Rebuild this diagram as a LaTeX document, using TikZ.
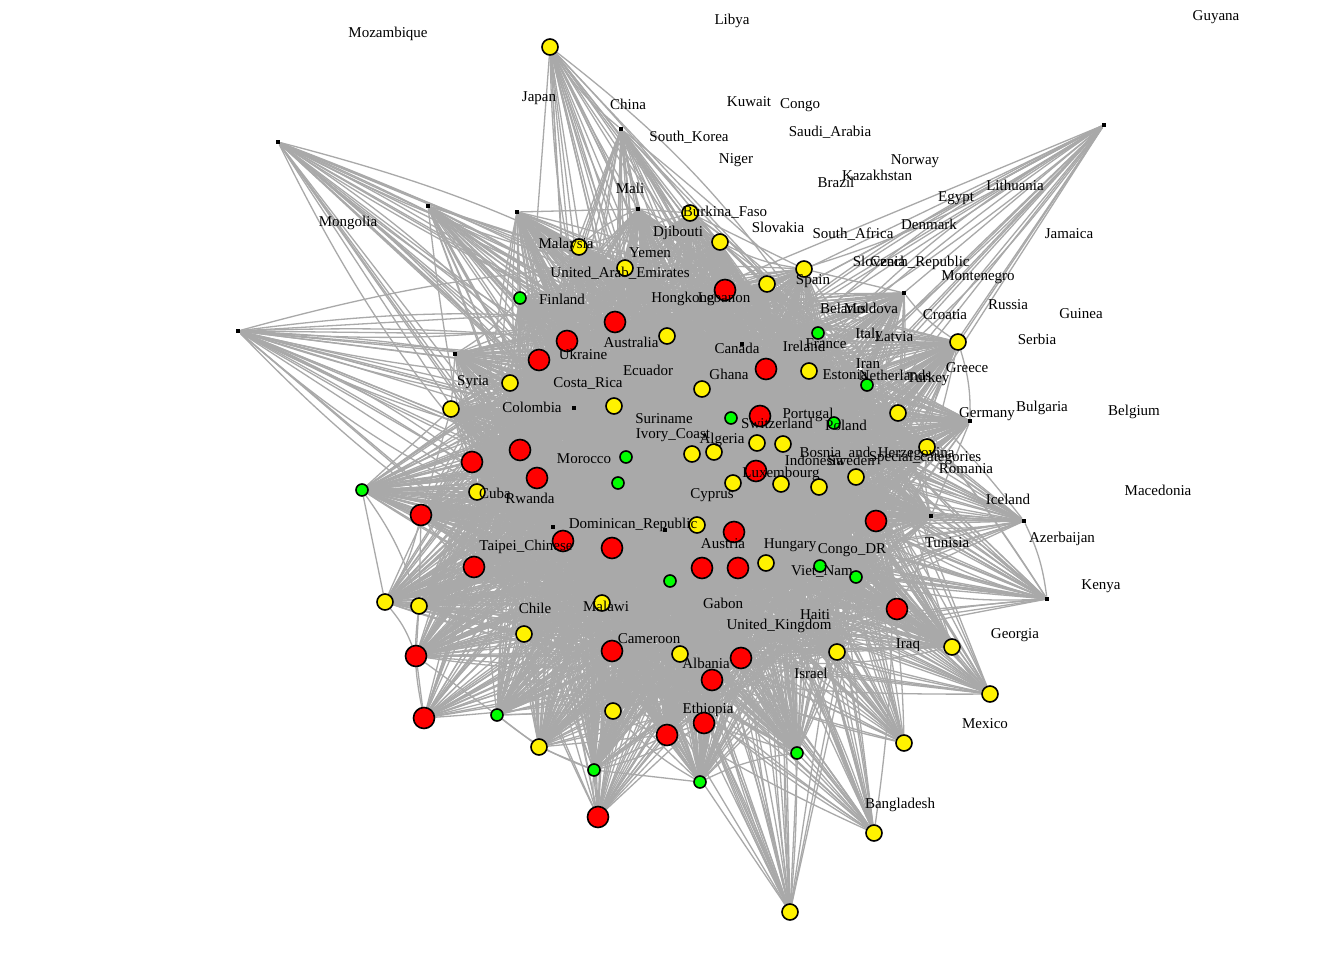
\documentclass[tikz,border=0pt]{standalone}
\usepackage{fontspec}
\setmainfont{Liberation Serif}
\pgfdeclarelayer{bglayer}
\pgfdeclarelayer{edgelayer}
\pgfsetlayers{bglayer,edgelayer,main}
\definecolor{edgegray}{RGB}{169,169,169}
\begin{document}
\begin{tikzpicture}[x=1pt,y=-1pt,
  vbase/.style={circle,draw=black,line width=1.6pt,inner sep=0pt},
  vr/.style={vbase,fill=red,minimum size=21pt},
  vy/.style={vbase,fill=yellow,minimum size=16pt},
  vg/.style={vbase,fill=green,minimum size=12pt},
  vs/.style={rectangle,fill=black,inner sep=0pt,minimum size=4.5pt},
  edge/.style={draw=edgegray,line width=1.3pt},
  lab/.style={inner sep=0pt,text height=10pt,text depth=3pt,font=\fontsize{15}{17}\selectfont}]
\begin{pgfonlayer}{bglayer}
\fill[white] (0,0) rectangle (1344,960);
\end{pgfonlayer}
\useasboundingbox (0,0) rectangle (1344,960);
\foreach [count=\i] \x/\y/\t in {
550/47/vy, 278/142/vs, 621/129/vs, 1104/125/vs, 428/206/vs, 517/212/vs, 638/209/vs, 690/213/vy,
579/247/vy, 720/242/vy, 625/268/vy, 804/269/vy, 767/284/vy, 725/290/vr, 520/298/vg, 904/293/vs,
615/322/vr, 667/336/vy, 567/341/vr, 539/360/vr, 818/333/vg, 742/344/vs, 958/342/vy, 238/331/vs,
455/354/vs, 766/369/vr, 809/371/vy, 867/385/vg, 510/383/vy, 702/389/vy, 451/409/vy, 574/408/vs,
614/406/vy, 898/413/vy, 731/418/vg, 760/416/vr, 834/423/vg, 970/421/vs, 520/450/vr, 472/462/vr,
692/454/vy, 714/452/vy, 757/443/vy, 783/444/vy, 927/447/vy, 626/457/vg, 756/471/vr, 537/478/vr,
618/483/vg, 733/483/vy, 781/484/vy, 819/487/vy, 856/477/vy, 477/492/vy, 362/490/vg, 553/527/vs,
665/530/vs, 697/525/vy, 421/515/vr, 734/532/vr, 876/521/vr, 931/516/vs, 1024/521/vs, 563/541/vr,
612/548/vr, 474/567/vr, 702/568/vr, 738/568/vr, 766/563/vy, 820/566/vg, 856/577/vg, 670/581/vg,
1047/599/vs, 385/602/vy, 419/606/vy, 602/603/vy, 897/609/vr, 524/634/vy, 416/656/vr, 612/651/vr,
680/654/vy, 741/658/vr, 837/652/vy, 952/647/vy, 712/680/vr, 990/694/vy, 424/718/vr, 497/715/vg,
613/711/vy, 704/723/vr, 667/735/vr, 539/747/vy, 904/743/vy, 797/753/vg, 594/770/vg, 700/782/vg,
598/817/vr, 874/833/vy, 790/912/vy}{
  \node[\t] (n\i) at (\x,\y) {};
  \pgfmathsetmacro\tmpu{(\x-690)/100}
  \pgfmathsetmacro\tmpv{(\y-480)/100}
  \expandafter\xdef\csname pu\i\endcsname{\tmpu}
  \expandafter\xdef\csname pv\i\endcsname{\tmpv}
  \xdef\ncount{\i}
}
\begin{pgfonlayer}{edgelayer}
\foreach \i in {1,...,\ncount}{
  \foreach \j in {1,...,\ncount}{
    \ifnum\j>\i\relax
      \edef\ua{\csname pu\i\endcsname}\edef\va{\csname pv\i\endcsname}
      \edef\ub{\csname pu\j\endcsname}\edef\vb{\csname pv\j\endcsname}
      \pgfmathsetmacro\ddx{(\ub)-(\ua)}
      \pgfmathsetmacro\ddy{(\vb)-(\va)}
      \pgfmathsetmacro\Ltwo{\ddx*\ddx+\ddy*\ddy}
      \pgfmathsetmacro\tpar{max(0,min(1,-((\ua)*(\ddx)+(\va)*(\ddy))/\Ltwo))}
      \pgfmathsetmacro\dd{veclen((\ua)+\tpar*(\ddx),(\va)+\tpar*(\ddy))}
      \pgfmathsetmacro\lenab{sqrt(\Ltwo)}
      \pgfmathsetmacro\rmx{max(veclen(\ua,\va),veclen(\ub,\vb))}
      \pgfmathtruncatemacro\hsh{mod(\i*13+\j*7,2)}
      \pgfmathtruncatemacro\ok{((((\dd<2.0)&&(\lenab<7.6))||(\lenab<1.3))&&((\rmx<3.3)||(\hsh==0))) ? 1 : 0}
      \ifnum\ok=1\relax
        \pgfmathtruncatemacro\bsel{mod(\i*7+\j*3,5)}
        \ifcase\bsel\relax
          \draw[edge] (n\i) to[bend left=9] (n\j);
        \or
          \draw[edge] (n\i) to[bend right=9] (n\j);
        \else
          \draw[edge] (n\i) -- (n\j);
        \fi
      \fi
    \fi
  }
}
\end{pgfonlayer}
\foreach [count=\k] \x/\y/\s in {
388/34/Mozambique, 732/21/Libya, 1216/17/Guyana, 539/98/Japan, 628/106/China, 749/103/Kuwait,
800/105/Congo, 689/138/South\_Korea, 830/133/Saudi\_Arabia, 736/160/Niger, 915/161/Norway,
836/184/Brazil, 877/177/Kazakhstan, 956/198/Egypt, 1015/187/Lithuania, 630/190/Mali,
725/213/Burkina\_Faso, 348/223/Mongolia, 678/233/Djibouti, 778/229/Slovakia, 853/235/South\_Africa,
929/226/Denmark, 1069/235/Jamaica, 566/245/Malaysia, 650/254/Yemen, 879/263/Slovenia,
920/263/Czech\_Republic, 620/274/United\_Arab\_Emirates, 978/277/Montenegro, 813/281/Spain,
562/301/Finland, 683/299/Hongkong, 724/299/Lebanon, 1008/306/Russia, 1081/315/Guinea,
843/310/Belarus, 871/310/Moldova, 945/316/Croatia, 869/335/Italy, 894/338/Latvia, 1037/341/Serbia,
631/344/Australia, 737/350/Canada, 804/348/Ireland, 826/345/France, 583/356/Ukraine, 868/365/Iran,
967/369/Greece, 648/372/Ecuador, 729/376/Ghana, 845/376/Estonia, 895/377/Netherlands,
928/379/Turkey, 473/382/Syria, 588/384/Costa\_Rica, 532/409/Colombia, 987/414/Germany,
1042/408/Bulgaria, 1134/412/Belgium, 664/420/Suriname, 808/415/Portugal, 777/425/Switzerland,
846/427/Poland, 673/435/Ivory\_Coast, 722/440/Algeria, 877/454/Bosnia\_and\_Herzegovina,
925/458/Special\_categories, 814/462/Indonesia, 851/462/Sweden, 966/470/Romania, 584/460/Morocco,
781/474/Luxembourg, 495/495/Cuba, 530/500/Rwanda, 712/495/Cyprus, 1008/501/Iceland,
1158/492/Macedonia, 633/525/Dominican\_Republic, 723/545/Austria, 790/545/Hungary,
852/550/Congo\_DR, 947/544/Tunisia, 1062/539/Azerbaijan, 526/547/Taipei\_Chinese, 822/572/Viet\_Nam,
1101/586/Kenya, 723/605/Gabon, 535/610/Chile, 606/608/Malawi, 815/616/Haiti,
779/626/United\_Kingdom, 1015/635/Georgia, 649/640/Cameroon, 908/645/Iraq, 706/665/Albania,
811/675/Israel, 708/710/Ethiopia, 985/725/Mexico, 900/805/Bangladesh}{
  \node[lab] (t\k) at (\x,\y) {\s};
}
\end{tikzpicture}
\end{document}
